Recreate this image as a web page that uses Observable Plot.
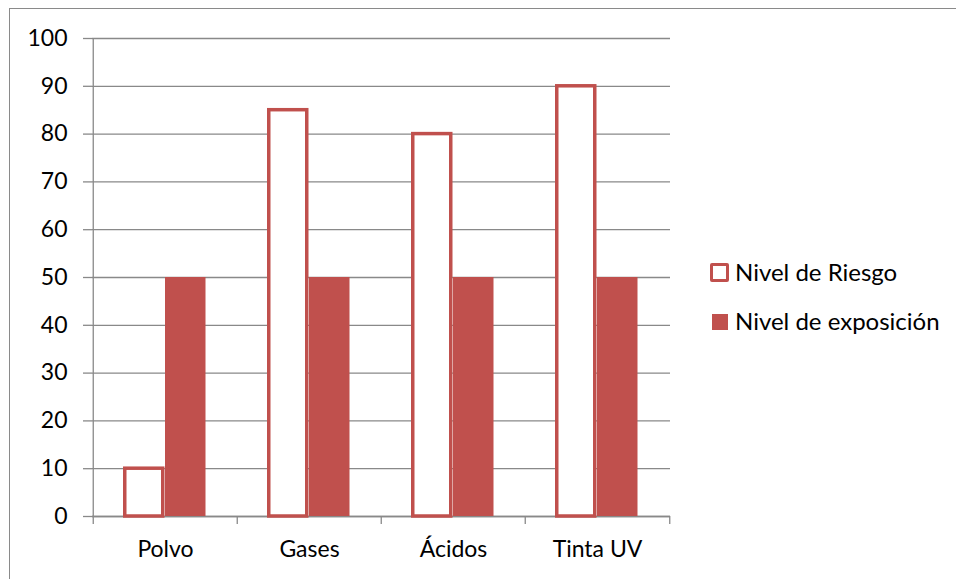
<!DOCTYPE html>
<html><head><meta charset="utf-8">
<script src="https://cdn.jsdelivr.net/npm/d3@7"></script>
<script src="https://cdn.jsdelivr.net/npm/@observablehq/plot@0.6"></script>
<style>
body{margin:0;background:#fff;}
#wrap{position:relative;width:956px;height:579px;overflow:hidden;font-family:Lato,sans-serif;background:#fff;}
#border{position:absolute;left:9px;top:8px;width:980px;height:600px;border-top:1.5px solid #8a8a8a;border-left:1.5px solid #8a8a8a;}
#chart{position:absolute;left:0;top:0;}
.leg{position:absolute;left:710px;font-size:24px;line-height:24px;color:#000;height:24px;white-space:nowrap;}
.sw{position:absolute;box-sizing:border-box;}
.lt{position:absolute;left:25px;top:0;}
</style>
</head><body>
<div id="wrap"><div id="border"></div><div id="chart"></div>
<div class="leg" style="top:259.5px"><div class="sw" style="left:0;top:3px;width:19px;height:19px;border:3.5px solid #C0504D;border-radius:2px;background:#fff"></div><span class="lt">Nivel de Riesgo</span></div>
<div class="leg" style="top:309px"><div class="sw" style="left:2px;top:5px;width:16px;height:16px;background:#C0504D"></div><span class="lt">Nivel de exposición</span></div>
</div>
<script>
const categories = ["Polvo", "Gases", "Ácidos", "Tinta UV"];
const nivelRiesgo = [10, 85, 80, 90];
const nivelExposicion = [50, 50, 50, 50];
const yTicks = [0, 10, 20, 30, 40, 50, 60, 70, 80, 90, 100];

const data = categories.map((c, i) => ({cat: c, riesgo: nivelRiesgo[i], exposicion: nivelExposicion[i]}));
const RED = "#C0504D", GRID = "#898989";
const W = 956, H = 579, ML = 92, MR = 286, MT = 38, MB = 63;
const band = (W - ML - MR) / categories.length;
const half = band / 2;

const chart = Plot.plot({
  width: W, height: H, marginLeft: ML, marginRight: MR, marginTop: MT, marginBottom: MB,
  style: {fontFamily: "Lato, sans-serif", fontSize: "23px", background: "transparent", color: "black", overflow: "visible"},
  x: {domain: categories, padding: 0, axis: null},
  y: {domain: [0, 100], axis: null},
  marks: [
    Plot.gridY({ticks: yTicks, stroke: GRID, strokeOpacity: 1, strokeWidth: 1.3}),
    Plot.axisY({ticks: yTicks, tickSize: 9, tickPadding: 16, stroke: GRID, strokeWidth: 1.3, fill: "black", label: null, fontSize: 23}),
    Plot.ruleY([0], {stroke: GRID, strokeWidth: 1.3}),
    Plot.ruleX([categories[0]], {x: d => d, dx: -half, y1: 100, y2: 0, insetBottom: -8, stroke: GRID, strokeWidth: 1.3}),
    Plot.ruleX(categories.slice(1), {x: d => d, dx: -half, y1: 0, y2: 0, insetBottom: -8, stroke: GRID, strokeWidth: 1.3}),
    Plot.ruleX([categories[categories.length - 1]], {x: d => d, dx: half, y1: 0, y2: 0, insetBottom: -8, stroke: GRID, strokeWidth: 1.3}),
    Plot.barY(data, {x: "cat", y: "riesgo", fill: "white", stroke: RED, strokeWidth: 3.5, insetLeft: 31.75, insetRight: band - 70.25}),
    Plot.barY(data, {x: "cat", y: "exposicion", fill: RED, insetLeft: 72, insetRight: band - 113}),
    Plot.axisX({tickSize: 0, tickPadding: 24, fontSize: 23, label: null, fill: "black"})
  ]
});
document.getElementById("chart").appendChild(chart);
</script>
</body></html>
